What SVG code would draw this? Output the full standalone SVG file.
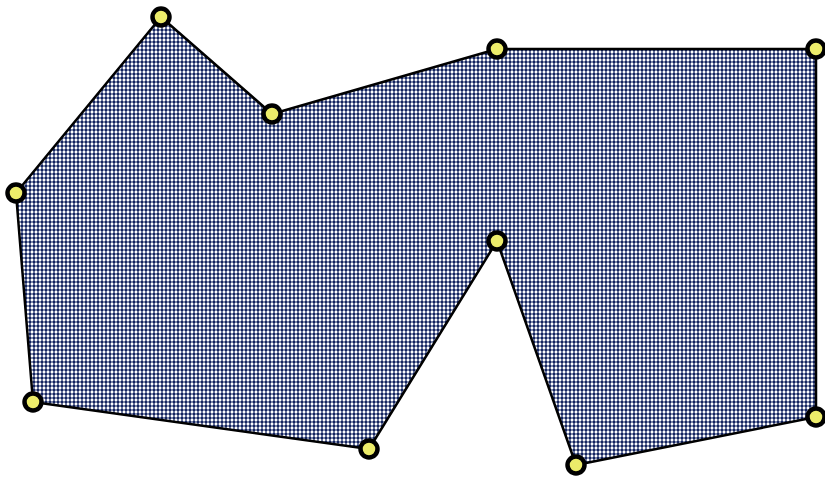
<svg xmlns="http://www.w3.org/2000/svg" width="825" height="477" viewBox="0 0 825 477">
<defs>
<pattern id="dia" width="4" height="4" patternUnits="userSpaceOnUse">
<rect width="4" height="4" fill="#ffffff"/>
<polygon points="2,-0.2 4,2 2,4.2 0,2" fill="#12235f"/>
</pattern>
</defs>
<style>
.v{fill:#ecec6a;stroke:#000;stroke-width:4.5}
</style>
<rect width="825" height="477" fill="#fff"/>
<g id="shape">
<polygon points="161,17 272,114 497,49 816,49 816,417 576,465 497,241 369,449 33,402 16,193" fill="url(#dia)" stroke="#000" stroke-width="2.5" stroke-linejoin="round"/>
</g>
<g id="vertices">
<circle class="v" cx="161" cy="17" r="8.5"/>
<circle class="v" cx="272" cy="114" r="8.5"/>
<circle class="v" cx="497" cy="49" r="8.5"/>
<circle class="v" cx="816" cy="49" r="8.5"/>
<circle class="v" cx="816" cy="417" r="8.5"/>
<circle class="v" cx="576" cy="465" r="8.5"/>
<circle class="v" cx="497" cy="241" r="8.5"/>
<circle class="v" cx="369" cy="449" r="8.5"/>
<circle class="v" cx="33" cy="402" r="8.5"/>
<circle class="v" cx="16" cy="193" r="8.5"/>
</g>
</svg>
